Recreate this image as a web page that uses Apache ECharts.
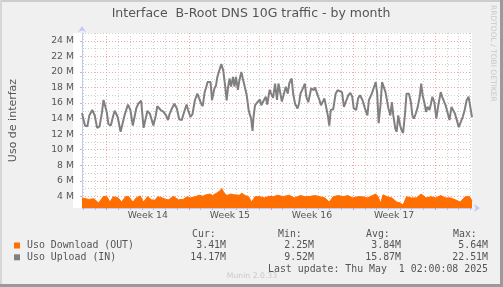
<!DOCTYPE html>
<html><head><meta charset="utf-8">
<script src="https://cdn.jsdelivr.net/npm/echarts@6/dist/echarts.min.js"></script>
<style>html,body{margin:0;padding:0;background:#f0f0f0}#c{width:503px;height:287px}</style>
</head><body><div id="c"></div>
<script>
// ---- data (hours since start of graph, values in M) ----
const uploadHours = [0,6,11,15,21,26,31,36,41,44,47,51,54,59,64,67,73,79,83,87,94,99,104,107,111,115,121,126,131,134,139,146,151,154,157,161,167,172,176,179,184,189,194,199,204,209,214,217,222,226,231,236,239,244,247,251,254,257,261,263,266,271,274,277,282,285,289,293,296,299,302,305,309,312,315,319,322,326,329,333,337,341,343,346,349,351,354,359,364,367,372,376,379,384,387,391,395,399,402,406,409,413,417,421,424,429,432,436,441,444,447,453,456,459,463,466,469,474,477,481,486,489,493,496,499,503,506,509,514,519,523,527,532,536,541,545,549,553,556,561,565,569,574,579,584,587,593,597,601,604,607,611,614,617,621,624,627,631,634,637,641,644,647,651,654,657,661,664,669,673,676,679,683,687,691,694,697,701,704,707,711,714,717,721,725,729,734,737,741,744,747,752,756,759,763,767,771,775,779,783,787,791,794,798];
const uploadValues = [14.7,13.1,13.0,14.4,15.1,14.4,12.8,13.0,14.85,16.4,15.7,14.7,13.3,13.1,14.4,15.0,14.2,12.3,12.5,14.4,15.8,15.1,13.1,13.35,15.3,15.9,16.3,12.8,14.2,15.0,14.6,13.1,14.4,15.6,15.5,15.1,14.85,14.4,13.8,14.55,15.3,15.9,15.3,13.9,13.8,14.85,15.8,15.1,14.2,14.55,16.35,17.2,17.3,15.9,15.6,17.4,18.0,18.7,18.5,18.7,16.35,17.9,18.2,19.35,20.4,21.0,20.2,18.1,16.35,18.1,19.15,18.1,19.35,18.1,19.35,17.7,18.9,20.0,19.15,18.1,17.0,15.1,14.6,14.0,12.4,14.2,15.7,16.1,16.45,15.7,16.35,16.8,15.8,17.7,17.2,16.65,18.5,16.4,18.5,18.7,16.2,16.1,18.1,17.2,18.5,19.15,17.2,15.9,15.3,15.9,17.2,18.0,18.5,16.8,16.1,16.35,17.9,17.65,18.0,17.2,16.35,15.7,15.5,16.6,16.8,14.4,13.1,15.1,15.2,17.2,17.65,17.4,17.4,15.5,16.35,17.0,17.3,16.8,15.3,15.1,16.6,17.0,16.35,15.3,14.4,16.35,17.2,17.2,18.7,17.2,13.4,15.9,18.7,18.85,17.4,17.2,15.3,14.4,16.1,14.4,12.7,12.3,14.4,13.1,12.5,12.15,14.65,17.2,17.2,16.1,14.4,14.0,14.65,15.5,16.8,18.5,17.0,15.9,14.85,15.5,15.1,15.9,16.8,16.1,14.0,15.7,17.4,16.8,17.0,15.7,15.9,13.8,15.5,15.5,14.65,14.65,12.9,12.7,14.2,15.1,16.35,16.8,15.7,14.17];
const downloadHours = [0,14,24,34,44,51,57,64,74,81,89,95,104,111,119,126,134,142,149,155,164,172,177,187,197,207,215,222,231,241,247,254,262,267,275,282,286,291,297,304,311,315,322,327,334,341,347,354,364,374,382,391,401,411,424,434,447,457,467,477,487,497,506,514,524,534,544,554,564,574,584,594,601,606,611,616,624,634,644,651,657,664,674,684,694,704,714,724,734,744,754,764,774,784,793,798];
const downloadValues = [3.8,3.6,3.7,3.15,4.0,3.95,3.27,3.95,3.8,3.27,3.95,4.0,3.27,3.8,4.05,3.27,3.95,3.55,3.5,3.95,3.8,3.6,3.55,4.0,3.55,3.6,3.95,3.8,3.95,4.15,4.0,4.2,4.3,4.1,4.4,4.7,5.0,4.4,4.1,4.3,4.2,4.4,4.15,4.4,4.1,3.95,3.27,3.95,3.95,3.8,4.0,3.95,4.15,3.95,4.15,3.8,4.1,3.95,4.0,4.1,3.95,3.8,3.27,3.95,4.1,3.95,4.1,3.8,3.95,3.95,3.8,4.1,4.3,3.95,3.1,4.2,3.95,3.8,3.27,3.15,2.9,3.95,3.8,3.8,4.3,3.8,3.95,3.8,4.1,3.8,3.8,3.55,3.27,3.95,3.95,3.41];

const yMinorTicks = [3,4,5,6,7,8,9,10,11,12,13,14,15,16,17,18,19,20,21,22,23,24,25];
const yMajorTicks = [4,6,8,10,12,14,16,18,20,22,24];
const weekLabels = ['Week 14','Week 15','Week 16','Week 17'];
const seriesNames = ['Uso Download (OUT)','Uso Upload (IN)'];
const statHeaders = ['Cur:','Min:','Avg:','Max:'];
const downloadStats = ['3.41M','2.25M','3.84M','5.64M'];
const uploadStats = ['14.17M','9.52M','15.87M','22.51M'];
const titleText = 'Interface  B-Root DNS 10G traffic - by month';
const yName = 'Uso de interfaz';
const lastUpdate = 'Last update: Thu May  1 02:00:08 2025';

// ---- axis helpers ----
const X_MIN = 0, X_MAX = 798;          // hours shown
const Y_MIN = 2.5, Y_MAX = 25;         // M
const firstDayLine = 2.6, firstWeekLine = 50.6;
const dayTicks = []; for (let h = firstDayLine; h <= X_MAX; h += 24) dayTicks.push(+h.toFixed(2));
const weekTicks = []; for (let i = 0; i <= weekLabels.length; i++) weekTicks.push(firstWeekLine + 168 * i);
const weekCenters = weekLabels.map((_, i) => weekTicks[i] + 84);

const COL_OUT = '#ff6e00', COL_IN = '#808080';
const MINOR = '#cfcfcf', MAJOR = '#f0a8a8', AXIS = '#c4c9f4', TXT = '#555555';
const SANS = '"DejaVu Sans", sans-serif', MONO = '"DejaVu Sans Mono", monospace';

const chart = echarts.init(document.getElementById('c'), null, {renderer: 'canvas'});

const gridRect = {left: 73, top: 33, width: 399, height: 175};

const graphics = [];
// frame
graphics.push({type:'rect', shape:{x:0,y:0,width:503,height:2}, style:{fill:'#cccccc'}, silent:true});
graphics.push({type:'rect', shape:{x:0,y:0,width:2,height:287}, style:{fill:'#d6d6d6'}, silent:true});
graphics.push({type:'rect', shape:{x:500,y:0,width:3,height:287}, style:{fill:'#9a9a9a'}, silent:true});
graphics.push({type:'rect', shape:{x:0,y:284,width:503,height:3}, style:{fill:'#9a9a9a'}, silent:true});
// title
graphics.push({type:'text', x:251, y:14, style:{text:titleText, font:'12.5px ' + SANS, fill:TXT, align:'center', verticalAlign:'middle'}});
// rrdtool watermark
graphics.push({type:'text', x:493, y:5, rotation:-Math.PI/2, style:{text:'RRDTOOL / TOBI OETIKER', font:'7.5px ' + SANS, fill:'#c8c8c8', align:'left', verticalAlign:'middle'}});
// legend headers
const headerX = [192, 278, 366, 453];
statHeaders.forEach((t, i) => graphics.push({type:'text', x:headerX[i], y:234, style:{text:t, font:'9.9px ' + MONO, fill:TXT, align:'left', verticalAlign:'middle'}}));
const valueRight = [226, 314, 401, 488];
const rows = [{name:seriesNames[0], col:COL_OUT, stats:downloadStats, y:245.5},
              {name:seriesNames[1], col:COL_IN, stats:uploadStats, y:257.3}];
rows.forEach(r => {
  graphics.push({type:'rect', shape:{x:14, y:r.y - 3, width:6, height:6}, style:{fill:r.col}});
  graphics.push({type:'text', x:27, y:r.y, style:{text:r.name, font:'9.9px ' + MONO, fill:TXT, align:'left', verticalAlign:'middle'}});
  r.stats.forEach((s, i) => graphics.push({type:'text', x:valueRight[i], y:r.y, style:{text:s, font:'9.9px ' + MONO, fill:TXT, align:'right', verticalAlign:'middle'}}));
});
graphics.push({type:'text', x:488, y:269.3, style:{text:lastUpdate, font:'9.9px ' + MONO, fill:TXT, align:'right', verticalAlign:'middle'}});
graphics.push({type:'text', x:252, y:276.5, style:{text:'Munin 2.0.33', font:'7.7px ' + SANS, fill:'#c8c8c8', align:'center', verticalAlign:'middle'}});
// plot background
graphics.push({type:'rect', z:-10, shape:{x:gridRect.left, y:gridRect.top, width:gridRect.width, height:gridRect.height}, style:{fill:'#ffffff'}, silent:true});

const option = {
  animation: false,
  backgroundColor: '#f0f0f0',
  grid: Object.assign({containLabel:false}, gridRect),
  xAxis: [
    { type:'value', min:X_MIN, max:X_MAX, position:'bottom',
      axisLine:{show:true, lineStyle:{color:AXIS, width:1}, symbol:['none','arrow'], symbolSize:[6,6], symbolOffset:[0,8]},
      axisTick:{show:true, customValues:dayTicks, length:2, lineStyle:{color:'#bbbbbb'}},
      axisLabel:{show:false},
      splitLine:{show:true, lineStyle:{color:MINOR, type:[1,2], width:1}} },
    { type:'value', min:X_MIN, max:X_MAX, position:'bottom',
      axisLine:{show:false},
      axisTick:{show:true, customValues:weekTicks, length:2, lineStyle:{color:'#e89090'}},
      axisLabel:{show:true, customValues:weekCenters, margin:3, color:TXT, fontFamily:SANS, fontSize:9.3,
        formatter:(v) => { const i = weekCenters.findIndex(c => Math.abs(c - v) < 1); return i >= 0 ? weekLabels[i] : ''; }},
      splitLine:{show:true, lineStyle:{color:MAJOR, type:[1,2], width:1}} }
  ],
  yAxis: [
    { type:'value', min:Y_MIN, max:Y_MAX, position:'left',
      name:yName, nameLocation:'middle', nameGap:63, nameRotate:90,
      nameTextStyle:{color:TXT, fontFamily:SANS, fontSize:11},
      axisLine:{show:true, lineStyle:{color:AXIS, width:1}, symbol:['none','arrow'], symbolSize:[6,6], symbolOffset:[0,7]},
      axisTick:{show:false, customValues:yMinorTicks},
      axisLabel:{show:false},
      splitLine:{show:true, lineStyle:{color:MINOR, type:[1,2], width:1}} },
    { type:'value', min:Y_MIN, max:Y_MAX, position:'left', offset:0,
      axisLine:{show:false},
      axisTick:{show:true, customValues:yMajorTicks, length:2, lineStyle:{color:'#bbbbbb'}},
      axisLabel:{show:true, customValues:yMajorTicks, margin:8, color:TXT, fontFamily:SANS, fontSize:9.3,
        formatter:(v) => v + ' M'},
      splitLine:{show:true, lineStyle:{color:MAJOR, type:[1,2], width:1}} }
  ],
  series: [
    { name:seriesNames[0], type:'line', xAxisIndex:0, yAxisIndex:0,
      data: downloadHours.map((h, i) => [h, downloadValues[i]]),
      showSymbol:false, symbol:'none', smooth:false,
      lineStyle:{width:1, color:COL_OUT}, areaStyle:{color:COL_OUT, opacity:1, origin:'start'}, z:3 },
    { name:seriesNames[1], type:'line', xAxisIndex:0, yAxisIndex:0,
      data: uploadHours.map((h, i) => [h, uploadValues[i]]),
      showSymbol:false, symbol:'none', smooth:false,
      lineStyle:{width:2, color:COL_IN}, z:4 }
  ],
  graphic: graphics
};
chart.setOption(option);
</script>
</body></html>
